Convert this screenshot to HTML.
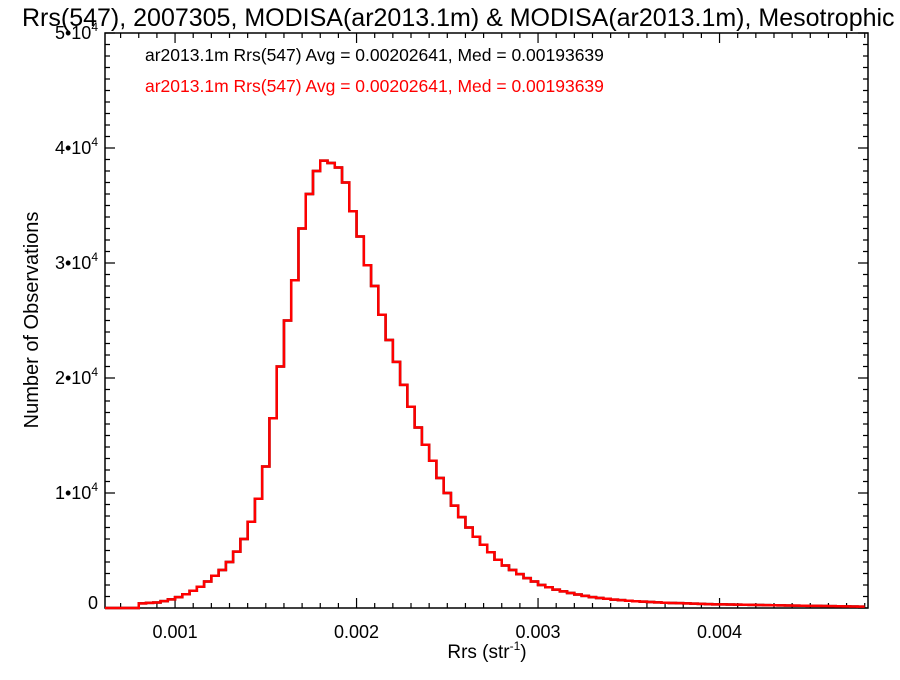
<!DOCTYPE html>
<html><head><meta charset="utf-8"><style>
body{margin:0;background:#fff}
svg text{font-family:"Liberation Sans",Arial,sans-serif}
</style></head><body>
<svg width="900" height="675" viewBox="0 0 900 675">
<text x="22" y="26" font-size="25">Rrs(547), 2007305, MODISA(ar2013.1m) &amp; MODISA(ar2013.1m), Mesotrophic</text>
<text x="145" y="61" font-size="17.5" fill="#000">ar2013.1m Rrs(547) Avg = 0.00202641, Med = 0.00193639</text>
<text x="145" y="92" font-size="17.5" fill="#ff0000">ar2013.1m Rrs(547) Avg = 0.00202641, Med = 0.00193639</text>
<text transform="translate(38,320) rotate(-90)" text-anchor="middle" font-size="20">Number of Observations</text>
<text x="487" y="658" text-anchor="middle" font-size="19">Rrs (str<tspan dy="-8" font-size="12">-1</tspan><tspan dy="8">)</tspan></text>
<g id="axes"></g>
<g id="series"></g>
</svg>
<script>
const binStart = 0.0006;
const binWidth = 0.00004;
const counts = [0,0,0,0,0,400,450,480,600,750,950,1200,1500,1850,2300,2800,3300,4000,4900,6000,7500,9500,12300,16500,21000,25000,28500,33000,36000,38000,38900,38700,38300,37000,34500,32300,29800,28000,25500,23300,21400,19400,17500,15700,14200,12800,11300,10000,8900,7900,7000,6200,5500,4850,4200,3700,3300,2950,2600,2300,2000,1800,1600,1450,1300,1170,1050,950,870,800,730,680,630,590,550,520,490,460,440,420,400,380,360,340,320,310,300,290,280,270,260,250,240,230,220,210,200,190,180,170,160,150,140,130,120];
const xTicks = [0.001,0.002,0.003,0.004];
const xTickLabels = ["0.001","0.002","0.003","0.004"];
const yTicks = [0,10000,20000,30000,40000,50000];
const yTickLabels = ["0","1•10^4","2•10^4","3•10^4","4•10^4","5•10^4"];
const xMin = 0.000614, xMax = 0.004818, yMin = 0, yMax = 50000;
const L = 105, R = 868, T = 33, B = 608;
const NS = "http://www.w3.org/2000/svg";
function sx(v){return L + (v - xMin) / (xMax - xMin) * (R - L);}
function sy(v){return B - (v - yMin) / (yMax - yMin) * (B - T);}
function mk(tag, attrs, parent){const e=document.createElementNS(NS,tag);for(const k in attrs)e.setAttribute(k,attrs[k]);parent.appendChild(e);return e;}
const ax = document.getElementById('axes');
const frame = mk('rect',{x:L,y:T,width:R-L,height:B-T,fill:'none',stroke:'#000','stroke-width':1.5},ax);


let tp = '';
for(let v=0.0007; v<=xMax+1e-9; v+=0.0001){
  const x=sx(v); const major = Math.abs(v*1000-Math.round(v*1000))<1e-6; const len = major?10:5;
  tp += `M${x},${B}V${B-len}M${x},${T}V${T+len}`;
}
for(let v=0; v<=yMax; v+=1000){
  const y=sy(v); const major = v%10000===0; const len = major?10:5;
  tp += `M${L},${y}H${L+len}M${R},${y}H${R-len}`;
}
const ticks = mk('path',{d:tp,stroke:'#000','stroke-width':1.2,fill:'none'},ax);


xTicks.forEach((v,i)=>{
  const t = mk('text',{x:sx(v),y:B+30,'text-anchor':'middle','font-size':18},ax);
  t.textContent = xTickLabels[i];
  
  
});
yTicks.forEach((v,i)=>{
  const t = mk('text',{x:98,y:sy(v)+ (v===0?1:6),'text-anchor':'end','font-size':18},ax);
  const parts = yTickLabels[i].split('^');
  t.textContent = parts[0];
  if(parts[1]){const s=mk('tspan',{dy:-8,'font-size':12},t); s.textContent=parts[1];}
  
  
});
const sg = document.getElementById('series');
let d = `M${sx(xMin)},${sy(0)}`;
counts.forEach((c,i)=>{
  const x0 = Math.max(sx(binStart+i*binWidth), L), x1 = Math.min(sx(binStart+(i+1)*binWidth), R);
  d += `L${x0},${sy(c)}L${x1},${sy(c)}`;
});
const blk = mk('path',{d:d,stroke:'#000','stroke-width':2.5,fill:'none'},sg);


const red = mk('path',{d:d,stroke:'#ff0000','stroke-width':2.5,fill:'none'},sg);


</script>
</body></html>
